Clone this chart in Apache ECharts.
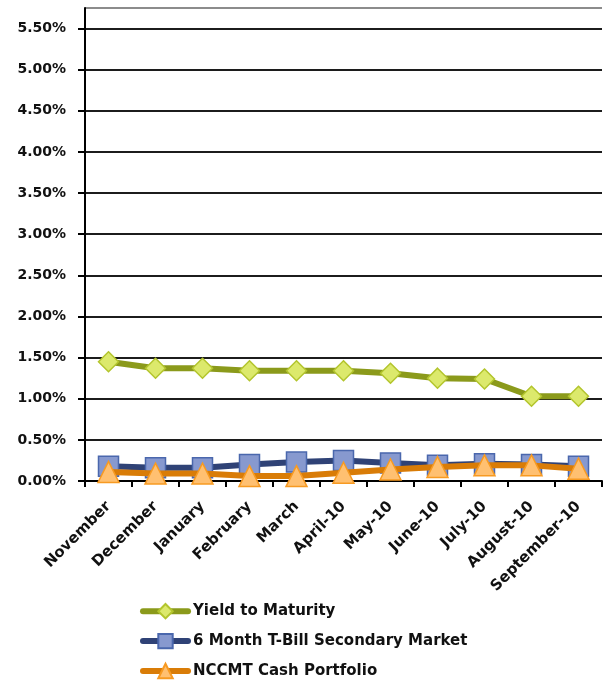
<!DOCTYPE html>
<html>
<head>
<meta charset="utf-8">
<style>
  html, body { margin: 0; padding: 0; background: #fff; }
  #chart { width: 603px; height: 681px; }
</style>
<script src="https://cdn.jsdelivr.net/npm/echarts@6/dist/echarts.min.js"></script>
</head>
<body>
<div id="chart"></div>
<script>
const categories = ['November', 'December', 'January', 'February', 'March', 'April-10',
  'May-10', 'June-10', 'July-10', 'August-10', 'September-10'];
const yieldToMaturity = [1.45, 1.37, 1.37, 1.34, 1.34, 1.34, 1.31, 1.25, 1.24, 1.03, 1.03];
const tBillSecondary = [0.18, 0.16, 0.16, 0.20, 0.23, 0.25, 0.22, 0.19, 0.21, 0.20, 0.18];
const nccmtCash = [0.11, 0.09, 0.09, 0.06, 0.06, 0.10, 0.14, 0.17, 0.19, 0.19, 0.15];
const yTickStep = 0.5;

const FONT = 'DejaVu Sans';
const chart = echarts.init(document.getElementById('chart'));

// dark grid lines, the last one (top edge of the plot) lighter
const gridColors = [];
for (let i = 0; i < 12; i++) gridColors.push('#1c1c1c');
gridColors.push('#8c8c8c');

chart.setOption({
  animation: false,
  grid: { left: 85, right: 1, top: 8, bottom: 200 },
  legend: {
    orient: 'vertical',
    left: 140,
    top: 603,
    padding: 0,
    itemWidth: 45,
    itemHeight: 18,
    itemGap: 13.5,
    lineStyle: { width: 6, cap: 'round' },
    textStyle: { fontFamily: FONT, fontWeight: 'bold', fontSize: 15, color: '#111' },
    data: ['Yield to Maturity', '6 Month T-Bill Secondary Market', 'NCCMT Cash Portfolio']
  },
  xAxis: {
    type: 'category',
    data: categories,
    boundaryGap: true,
    axisLine: { lineStyle: { color: '#000', width: 2 } },
    axisTick: { show: true, length: 6, lineStyle: { color: '#000', width: 2 } },
    axisLabel: {
      rotate: 45, margin: 23, interval: 0,
      fontFamily: FONT, fontWeight: 'bold', fontSize: 15, color: '#111'
    }
  },
  yAxis: {
    type: 'value',
    min: 0,
    max: 5.75,
    interval: yTickStep,
    axisLine: { show: true, lineStyle: { color: '#000', width: 2 } },
    axisTick: { show: true, length: 7, lineStyle: { color: '#000', width: 2 } },
    axisLabel: {
      margin: 19,
      showMaxLabel: false,
      fontFamily: FONT, fontWeight: 'bold', fontSize: 14, color: '#111',
      formatter: v => (Math.abs(v / yTickStep - Math.round(v / yTickStep)) < 1e-6 ? v.toFixed(2) + '%' : '')
    },
    splitLine: { show: true, lineStyle: { color: gridColors, width: 2 } }
  },
  series: [
    {
      name: 'Yield to Maturity',
      type: 'line',
      data: yieldToMaturity,
      symbol: 'diamond',
      symbolSize: 20,
      lineStyle: { color: '#8b9a1b', width: 6 },
      itemStyle: { color: '#dce96c', borderColor: '#b3c52d', borderWidth: 1.5 },
      z: 3
    },
    {
      name: '6 Month T-Bill Secondary Market',
      type: 'line',
      data: tBillSecondary,
      symbol: 'rect',
      symbolSize: 20,
      lineStyle: { color: '#2f4276', width: 6 },
      itemStyle: { color: '#8799cf', borderColor: '#4a67ad', borderWidth: 1.5 },
      z: 2
    },
    {
      name: 'NCCMT Cash Portfolio',
      type: 'line',
      data: nccmtCash,
      symbol: 'triangle',
      symbolSize: 21,
      lineStyle: { color: '#d97c07', width: 6 },
      itemStyle: { color: '#ffc071', borderColor: '#f79a22', borderWidth: 1.5 },
      z: 4
    }
  ]
});
</script>
</body>
</html>
